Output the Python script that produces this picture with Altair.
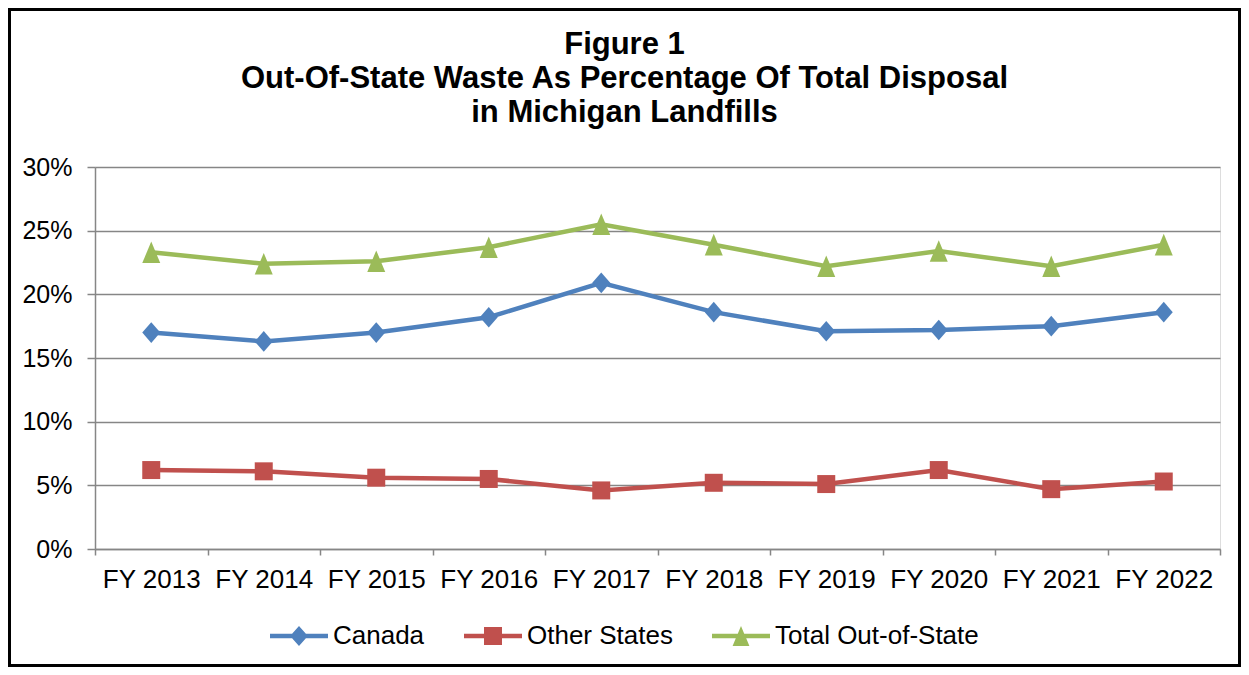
import altair as alt
import pandas as pd

cats = ["FY 2013", "FY 2014", "FY 2015", "FY 2016", "FY 2017",
        "FY 2018", "FY 2019", "FY 2020", "FY 2021", "FY 2022"]
series_names = ["Canada", "Other States", "Total Out-of-State"]
canada = [17.0, 16.3, 17.0, 18.2, 20.9, 18.6, 17.1, 17.2, 17.5, 18.6]
other_states = [6.2, 6.1, 5.6, 5.5, 4.6, 5.2, 5.1, 6.2, 4.7, 5.3]
total_oos = [23.3, 22.4, 22.6, 23.7, 25.5, 23.9, 22.2, 23.4, 22.2, 23.9]

colors = ["#4F81BD", "#C0504D", "#9BBB59"]

rows = []
for name, vals in zip(series_names, [canada, other_states, total_oos]):
    for c, v in zip(cats, vals):
        rows.append({"year": c, "series": name, "value": v})
df = pd.DataFrame(rows)

W, H = 1125, 382
PAD = {"left": 87, "top": 159, "right": 21, "bottom": 118}
FONT = "Liberation Sans"

x_enc = alt.X("year:N", sort=cats, title=None,
              scale=alt.Scale(type="band", paddingInner=0, paddingOuter=0),
              axis=alt.Axis(tickBand="extent", labelAngle=0, labelFontSize=26,
                            labelFont=FONT, labelColor="black", labelPadding=11,
                            domainColor="#868686", domainWidth=1.5,
                            tickColor="#868686", tickWidth=1.5, tickSize=6,
                            grid=False))
y_enc = alt.Y("value:Q", title=None,
              scale=alt.Scale(domain=[0, 30]),
              axis=alt.Axis(values=[0, 5, 10, 15, 20, 25, 30],
                            labelExpr="datum.value + '%'",
                            labelFontSize=25, labelFont=FONT, labelColor="black",
                            labelPadding=15, tickSize=8, tickColor="#868686",
                            tickWidth=1.5, domainColor="#868686", domainWidth=1.5,
                            gridColor="#868686", gridWidth=1.5))

color_scale = alt.Scale(domain=series_names, range=colors)

base = alt.Chart(df)

lines = base.mark_line(strokeWidth=4.5).encode(
    x=x_enc, y=y_enc,
    color=alt.Color("series:N", scale=color_scale, legend=None),
    detail="series:N",
)

tri_path = "M0,-1.2L-1,1.2L1,1.2Z"
dia_path = "M0,-1.15L1,0L0,1.15L-1,0Z"
markers = base.mark_point(filled=True, opacity=1, strokeWidth=0).encode(
    x=alt.X("year:N", sort=cats),
    y="value:Q",
    color=alt.Color("series:N", scale=color_scale, legend=None),
    shape=alt.Shape("series:N", scale=alt.Scale(domain=series_names,
                                                range=[dia_path, "square", tri_path]),
                    legend=None),
    size=alt.Size("series:N", scale=alt.Scale(domain=series_names,
                                              range=[324, 324, 289]),
                  legend=None),
)

leg_dia = ("M-1,-0.08L-0.238,-0.08L0,-0.345L0.238,-0.08L1,-0.08L1,0.08"
           "L0.238,0.08L0,0.345L-0.238,0.08L-1,0.08Z")
leg_sq = ("M-1,-0.08L-0.31,-0.08L-0.31,-0.31L0.31,-0.31L0.31,-0.08L1,-0.08"
          "L1,0.08L0.31,0.08L0.31,0.31L-0.31,0.31L-0.31,0.08L-1,0.08Z")
leg_tri = ("M-1,-0.08L-0.111,-0.08L0,-0.345L0.111,-0.08L1,-0.08L1,0.08"
           "L0.179,0.08L0.29,0.345L-0.29,0.345L-0.179,0.08L-1,0.08Z")

legend_def = alt.Legend(title=None, orient="none", direction="horizontal",
                        legendX=175, legendY=440, labelFontSize=26, labelFont=FONT,
                        labelColor="black", symbolSize=3364, symbolStrokeWidth=0,
                        labelOffset=5, columnPadding=39, padding=0, labelLimit=400)

legend_layer = base.mark_point(filled=True, opacity=1).encode(
    x=alt.X("year:N", sort=cats),
    y="value:Q",
    color=alt.Color("series:N", scale=alt.Scale(domain=series_names, range=colors),
                    legend=legend_def),
    shape=alt.Shape("series:N", scale=alt.Scale(domain=series_names,
                                                range=[leg_dia, leg_sq, leg_tri]),
                    legend=legend_def),
).transform_filter("false")

frame = alt.Chart(alt.Data(values=[{}])).mark_rect(
    fillOpacity=0, stroke="black", strokeWidth=3
).encode(
    x=alt.value(-PAD["left"] + 1.5), x2=alt.value(W + PAD["right"] - 1.5),
    y=alt.value(-PAD["top"] + 1.5), y2=alt.value(H + PAD["bottom"] - 1.5),
)

chart = alt.layer(lines, markers, legend_layer, frame).resolve_scale(
    color="independent", shape="independent"
).properties(
    width=W, height=H,
    autosize=alt.AutoSizeParams(type="none"),
    padding=PAD,
    title=alt.TitleParams(
        text=["Figure 1", "Out-Of-State Waste As Percentage Of Total Disposal",
              "in Michigan Landfills"],
        fontSize=31, font=FONT, fontWeight="bold", color="black",
        anchor="middle", frame="group", dx=-33, offset=42, dy=163, lineHeight=34,
    ),
).configure_view(strokeWidth=0, stroke="transparent").configure(background="white")

chart.save("out.html", embed_options={"renderer": "svg", "actions": False})
